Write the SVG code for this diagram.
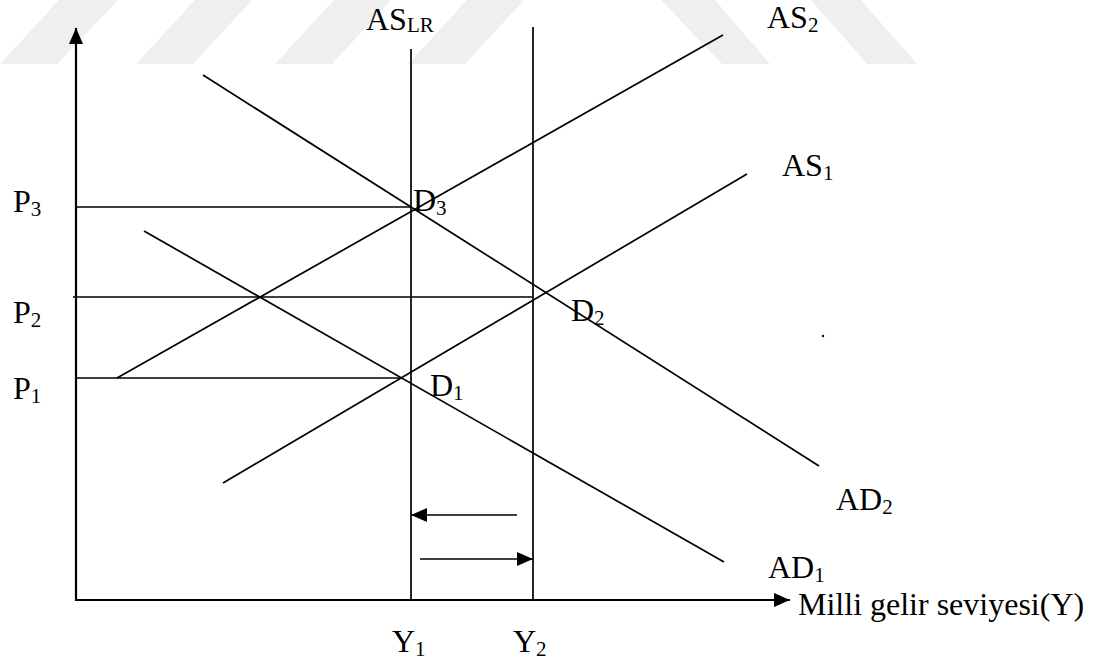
<svg xmlns="http://www.w3.org/2000/svg" width="1112" height="662" viewBox="0 0 1112 662">
<style>
.t{font-family:"Liberation Serif","Times New Roman",serif;font-size:32px;fill:#000}
.s{font-size:21px}
.ln{stroke:#000;stroke-width:1.7;fill:none}
.ax{stroke:#000;stroke-width:2.2;fill:none}
.wm{fill:#efefef;stroke:none}
</style>
<defs>
<marker id="ah" viewBox="0 0 16 14" refX="16" refY="7" markerWidth="16" markerHeight="14" markerUnits="userSpaceOnUse" orient="auto">
<path d="M0,0 L16,7 L0,14 Z" fill="#000"/>
</marker>
</defs>
<rect width="1112" height="662" fill="#fff"/>
<g id="watermark">
<polygon class="wm" points="0,64 57,64 118,0 59,0"/>
<polygon class="wm" points="136,64 193,64 252,0 195,0"/>
<polygon class="wm" points="275,64 332,64 391,0 334,0"/>
<polygon class="wm" points="408,64 465,64 524,0 467,0"/>
<polygon class="wm" points="661,0 715,0 770,64 722,64"/>
<polygon class="wm" points="811,0 861,0 917,64 867,64"/>
</g>
<g id="connectors">
<line class="ax" x1="76" y1="601" x2="76" y2="28" marker-end="url(#ah)"/>
<line class="ax" x1="75" y1="600" x2="790" y2="600" marker-end="url(#ah)"/>
<line class="ln" x1="411" y1="49" x2="411" y2="600"/>
<line class="ln" x1="533" y1="27" x2="533" y2="600"/>
<line class="ln" x1="77" y1="207" x2="411" y2="207"/>
<line class="ln" x1="73" y1="297" x2="533" y2="297"/>
<line class="ln" x1="77" y1="378" x2="402" y2="378"/>
<line class="ln" x1="117" y1="378" x2="723" y2="35"/>
<line class="ln" x1="223" y1="483" x2="747" y2="174"/>
<line class="ln" x1="144" y1="231" x2="724" y2="562"/>
<line class="ln" x1="203" y1="75" x2="819" y2="466"/>
<line class="ln" x1="517" y1="515" x2="411" y2="515" marker-end="url(#ah)"/>
<line class="ln" x1="420" y1="559" x2="533" y2="559" marker-end="url(#ah)"/>
</g>
<circle cx="823" cy="336" r="1.2" fill="#000"/>
<g id="labels">
<g id="AS_LR"><text class="t" x="366" y="30">AS<tspan class="s" dy="2">LR</tspan></text></g>
<g id="AS2"><text class="t" x="767" y="28">AS<tspan class="s" dy="4">2</tspan></text></g>
<g id="AS1"><text class="t" x="782" y="176">AS<tspan class="s" dy="4">1</tspan></text></g>
<g id="P3"><text class="t" x="13" y="212">P<tspan class="s" dy="4">3</tspan></text></g>
<g id="P2"><text class="t" x="13" y="323">P<tspan class="s" dy="4">2</tspan></text></g>
<g id="P1"><text class="t" x="13" y="399">P<tspan class="s" dy="4">1</tspan></text></g>
<g id="D3"><text class="t" x="413" y="211">D<tspan class="s" dy="4">3</tspan></text></g>
<g id="D2"><text class="t" x="571" y="321">D<tspan class="s" dy="4">2</tspan></text></g>
<g id="D1"><text class="t" x="430" y="396">D<tspan class="s" dy="4">1</tspan></text></g>
<g id="AD2"><text class="t" x="836" y="510">AD<tspan class="s" dy="4">2</tspan></text></g>
<g id="AD1"><text class="t" x="768" y="578">AD<tspan class="s" dy="4">1</tspan></text></g>
<g id="xlabel"><text class="t" x="798" y="615">Milli gelir seviyesi(Y)</text></g>
<g id="Y1"><text class="t" x="392" y="652">Y<tspan class="s" dy="4">1</tspan></text></g>
<g id="Y2"><text class="t" x="513" y="652">Y<tspan class="s" dy="4">2</tspan></text></g>
</g>
</svg>
